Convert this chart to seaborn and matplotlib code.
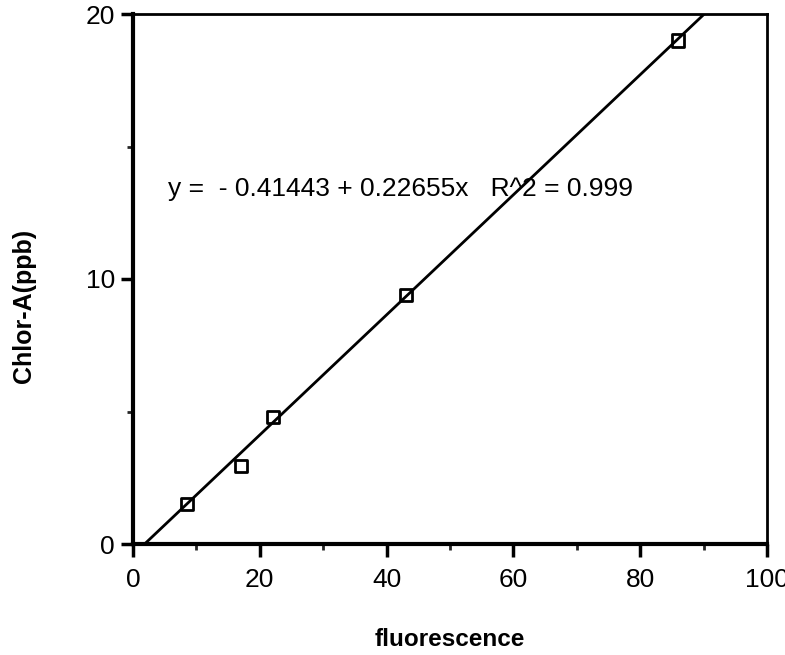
import numpy as np
import pandas as pd
import seaborn as sns
import matplotlib.pyplot as plt
from matplotlib.ticker import MultipleLocator

# calibration points
fluorescence = [8.5, 17.0, 22.1, 43.1, 86.0]
chlor_a = [1.5, 2.95, 4.8, 9.4, 19.0]

# fit coefficients shown on the chart
intercept = -0.41443
slope = 0.22655
r2 = 0.999

df = pd.DataFrame({'fluorescence': fluorescence, 'chlor': chlor_a})
fit_x = np.array([0, 100])
fit_df = pd.DataFrame({'x': fit_x, 'y': intercept + slope * fit_x})

sns.set_style('white')
plt.rcParams['font.family'] = ['Liberation Sans', 'DejaVu Sans']
plt.rcParams['text.color'] = 'black'
plt.rcParams['axes.labelcolor'] = 'black'

fig = plt.figure(figsize=(7.85, 6.55), dpi=100)
ax = fig.add_axes([133/785, 1 - 544/655, (767-133)/785, (544-14)/655])

sns.lineplot(data=fit_df, x='x', y='y', color='black', linewidth=2, ax=ax)
sns.scatterplot(data=df, x='fluorescence', y='chlor', marker='s', s=80,
                facecolor='none', edgecolor='black', linewidth=2, ax=ax, zorder=3)

ax.set_xlim(0, 100)
ax.set_ylim(0, 20)
ax.xaxis.set_major_locator(MultipleLocator(20))
ax.xaxis.set_minor_locator(MultipleLocator(10))
ax.yaxis.set_major_locator(MultipleLocator(10))
ax.yaxis.set_minor_locator(MultipleLocator(5))
ax.tick_params(which='major', direction='out', length=9, width=2.5, labelsize=19,
               left=True, bottom=True, colors='black')
ax.tick_params(axis='x', which='major', pad=8)
ax.tick_params(axis='y', which='major', pad=4)
ax.tick_params(which='minor', direction='out', length=4.5, width=2, left=True, bottom=True)

for side in ['left', 'bottom']:
    ax.spines[side].set_linewidth(3)
for side in ['top', 'right']:
    ax.spines[side].set_linewidth(2)
for s in ax.spines.values():
    s.set_color('black')

ax.set_xlabel('fluorescence', fontsize=17.5, fontweight='bold', labelpad=26)
ax.set_ylabel('Chlor-A(ppb)', fontsize=18, fontweight='bold', labelpad=36, y=0.45)

ax.text(5.5, 13.4, 'y =  - 0.41443 + 0.22655x   R^2 = 0.999',
        fontsize=19, va='center', ha='left')

fig.savefig('out.png', dpi=100)
